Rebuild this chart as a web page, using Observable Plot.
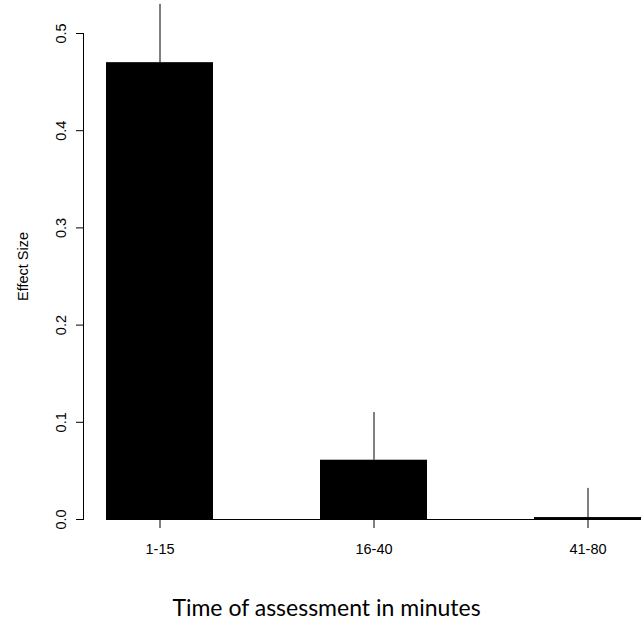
<!DOCTYPE html>
<html><head><meta charset="utf-8">
<script src="https://cdn.jsdelivr.net/npm/d3@7"></script>
<script src="https://cdn.jsdelivr.net/npm/@observablehq/plot@0.6"></script>
<style>body{margin:0;background:#fff;}</style>
</head><body><div id="chart"></div>
<script>
const categories = ["1-15", "16-40", "41-80"];
const effectSizes = [0.470, 0.061, 0.002];
const upperErrors = [0.530, 0.110, 0.032];
const yTicks = [0, 0.1, 0.2, 0.3, 0.4, 0.5];
const xTitle = "Time of assessment in minutes";
const yTitle = "Effect Size";

const data = categories.map((c, i) => ({cat: c, value: effectSizes[i], upper: upperErrors[i]}));
const W = 644, H = 624, mL = 84, mB = 105, mT = 33;

const plot = Plot.plot({
  width: W, height: H,
  marginLeft: mL, marginRight: 0, marginTop: mT, marginBottom: mB,
  style: {fontFamily: "'Liberation Sans', Arial, sans-serif", fontSize: "14px", background: "#fff", color: "#000"},
  x: {domain: categories, insetLeft: 21.7, insetRight: 1.7, paddingInner: 0.5, paddingOuter: 0, axis: null},
  y: {domain: [0, 0.5], axis: null},
  marks: [
    Plot.barY(data, {x: "cat", y: "value", fill: "#000"}),
    Plot.ruleX(data, {x: "cat", y1: "value", y2: "upper", stroke: "#000", strokeWidth: 1}),
    Plot.axisX({tickSize: 9, tickPadding: 15, fontSize: 14.5, stroke: "#000", label: null}),
    Plot.axisY({ticks: yTicks, tickSize: 8, text: null, stroke: "#000", label: null}),
    Plot.text(yTicks, {y: d => d, text: d3.format(".1f"), frameAnchor: "left", rotate: -90, dx: -19, lineAnchor: "bottom", textAnchor: "middle", fontSize: 14.5}),
    Plot.text([yTitle], {text: d => d, frameAnchor: "left", rotate: -90, dx: -57, dy: -10, lineAnchor: "bottom", textAnchor: "middle", fontSize: 14.5}),
    Plot.text([xTitle], {text: d => d, frameAnchor: "bottom", dx: -38, dy: 96, lineAnchor: "bottom", textAnchor: "middle", fontSize: 23, fontFamily: "Lato, 'Open Sans', sans-serif"})
  ]
});

const svg = d3.select(plot);
const x = plot.scale("x"), y = plot.scale("y");
svg.append("line")
  .attr("x1", mL - 0.5).attr("x2", mL - 0.5)
  .attr("y1", y.apply(0)).attr("y2", y.apply(0.5))
  .attr("stroke", "#000");
svg.append("line")
  .attr("x1", x.apply(categories[0])).attr("x2", x.apply(categories[categories.length - 1]) + x.bandwidth)
  .attr("y1", y.apply(0) + 0.5).attr("y2", y.apply(0) + 0.5)
  .attr("stroke", "#000");

document.getElementById("chart").appendChild(plot);
</script>
</body></html>
